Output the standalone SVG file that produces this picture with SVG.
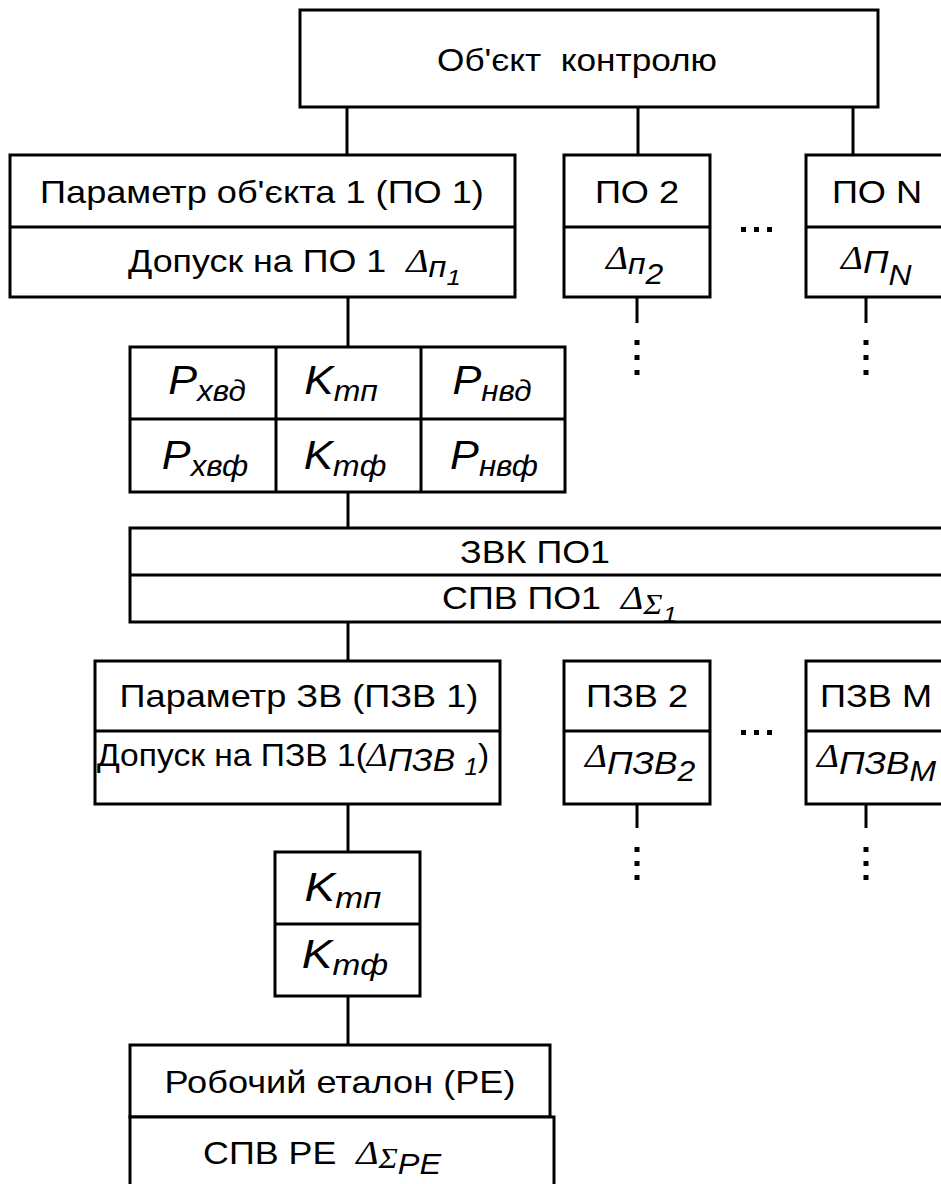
<svg xmlns="http://www.w3.org/2000/svg" width="941" height="1184" viewBox="0 0 941 1184">
<style>
.b{fill:#fff;stroke:#000;stroke-width:3}
.d{stroke:#000;stroke-width:3;fill:none}
.c line{stroke:#000;stroke-width:3}
.t{font-family:"Liberation Sans",Arial,sans-serif;font-size:32px;fill:#000;white-space:pre}
.m{text-anchor:middle}
.i{font-style:italic}
.g{font-family:"Liberation Serif","Times New Roman",serif;font-style:italic;font-size:34px}
.big{font-size:40px}
.s{font-size:29px}
.ss{font-size:23px}
.dot{fill:#000}
</style>
<g class="c" id="connectors">
<line x1="347" y1="107" x2="347" y2="155"/>
<line x1="638" y1="107" x2="638" y2="155"/>
<line x1="853" y1="107" x2="853" y2="155"/>
<line x1="348" y1="297" x2="348" y2="347"/>
<line x1="637" y1="297" x2="637" y2="323"/>
<line x1="866" y1="297" x2="866" y2="323"/>
<line x1="348" y1="492" x2="348" y2="528"/>
<line x1="348" y1="622" x2="348" y2="661"/>
<line x1="637" y1="804" x2="637" y2="828"/>
<line x1="866" y1="804" x2="866" y2="828"/>
<line x1="348" y1="804" x2="348" y2="852"/>
<line x1="348" y1="996" x2="348" y2="1045"/>
</g>
<g id="dots">
<rect class="dot" x="634.5" y="340" width="5" height="5"/><rect class="dot" x="634.5" y="355" width="5" height="5"/><rect class="dot" x="634.5" y="370" width="5" height="5"/>
<rect class="dot" x="863.5" y="340" width="5" height="5"/><rect class="dot" x="863.5" y="355" width="5" height="5"/><rect class="dot" x="863.5" y="370" width="5" height="5"/>
<rect class="dot" x="634.5" y="847" width="5" height="5"/><rect class="dot" x="634.5" y="861" width="5" height="5"/><rect class="dot" x="634.5" y="875" width="5" height="5"/>
<rect class="dot" x="863.5" y="847" width="5" height="5"/><rect class="dot" x="863.5" y="861" width="5" height="5"/><rect class="dot" x="863.5" y="875" width="5" height="5"/>
<rect class="dot" x="741" y="227" width="5" height="5"/><rect class="dot" x="754" y="227" width="5" height="5"/><rect class="dot" x="767" y="227" width="5" height="5"/>
<rect class="dot" x="741" y="730" width="5" height="5"/><rect class="dot" x="754" y="730" width="5" height="5"/><rect class="dot" x="767" y="730" width="5" height="5"/>
</g>
<g id="object">
<rect class="b" x="300" y="10" width="578" height="97"/>
<text class="t m" transform="translate(577,71) scale(1.1,1)">Об'єкт  контролю</text>
</g>
<g id="po1">
<rect class="b" x="10" y="155" width="505" height="142"/>
<line class="d" x1="10" y1="227" x2="515" y2="227"/>
<text class="t m" transform="translate(262,203) scale(1.13,1)">Параметр об'єкта 1 (ПО 1)</text>
<text class="t" transform="translate(128,272) scale(1.12,1)">Допуск на ПО 1  <tspan class="g">Δ</tspan><tspan class="i s" dy="5">п</tspan><tspan class="i ss" dy="8">1</tspan></text>
</g>
<g id="po2">
<rect class="b" x="564" y="155" width="146" height="142"/>
<line class="d" x1="564" y1="227" x2="710" y2="227"/>
<text class="t m" transform="translate(637,203) scale(1.13,1)">ПО 2</text>
<text class="t" transform="translate(606,269) scale(1.1,1)"><tspan class="g">Δ</tspan><tspan class="i s" dy="5">п</tspan><tspan class="i s" dy="10">2</tspan></text>
</g>
<g id="poN">
<rect class="b" x="806" y="155" width="150" height="142"/>
<line class="d" x1="806" y1="227" x2="941" y2="227"/>
<text class="t m" transform="translate(877,203) scale(1.13,1)">ПО N</text>
<text class="t" transform="translate(841,269) scale(1.1,1)"><tspan class="g">Δ</tspan><tspan class="i" dy="4">П</tspan><tspan class="i s" dy="12">N</tspan></text>
</g>
<g id="table1">
<rect class="b" x="130" y="347" width="435" height="145"/>
<line class="d" x1="130" y1="419" x2="565" y2="419"/>
<line class="d" x1="276" y1="347" x2="276" y2="492"/>
<line class="d" x1="421" y1="347" x2="421" y2="492"/>
<text class="t i big m" transform="translate(207,394) scale(1.08,1)">P<tspan class="s" dy="7">хвд</tspan></text>
<text class="t i big m" transform="translate(341,394) scale(1.1,1)">K<tspan class="s" dy="7">тп</tspan></text>
<text class="t i big m" transform="translate(492,394) scale(1.08,1)">P<tspan class="s" dy="7">нвд</tspan></text>
<text class="t i big m" transform="translate(205,469) scale(1.08,1)">P<tspan class="s" dy="7">хвф</tspan></text>
<text class="t i big m" transform="translate(345,469) scale(1.1,1)">K<tspan class="s" dy="7">тф</tspan></text>
<text class="t i big m" transform="translate(494,469) scale(1.08,1)">P<tspan class="s" dy="7">нвф</tspan></text>
</g>
<g id="zvk">
<rect class="b" x="130" y="528" width="830" height="94"/>
<line class="d" x1="130" y1="575" x2="941" y2="575"/>
<text class="t m" transform="translate(535,563) scale(1.12,1)">ЗВК ПО1</text>
<text class="t" transform="translate(442,609) scale(1.12,1)">СПВ ПО1  <tspan class="g">Δ</tspan><tspan class="g s" dy="5">Σ</tspan><tspan class="i ss" dy="8">1</tspan></text>
</g>
<g id="pzv1">
<rect class="b" x="95" y="661" width="405" height="143"/>
<line class="d" x1="95" y1="731" x2="500" y2="731"/>
<text class="t m" transform="translate(299,707) scale(1.13,1)">Параметр ЗВ (ПЗВ 1)</text>
<text class="t" transform="translate(97,766) scale(1.05,1)">Допуск на ПЗВ 1(<tspan class="g">Δ</tspan><tspan class="i" dy="5">ПЗВ </tspan><tspan class="i ss" dy="4">1</tspan><tspan dy="-9">)</tspan></text>
</g>
<g id="pzv2">
<rect class="b" x="564" y="661" width="146" height="143"/>
<line class="d" x1="564" y1="731" x2="710" y2="731"/>
<text class="t m" transform="translate(637,707) scale(1.13,1)">ПЗВ 2</text>
<text class="t" transform="translate(585,767) scale(1.1,1)"><tspan class="g" font-size="27">Δ</tspan><tspan class="i" dy="7">ПЗВ</tspan><tspan class="i s" dy="7">2</tspan></text>
</g>
<g id="pzvM">
<rect class="b" x="806" y="661" width="150" height="143"/>
<line class="d" x1="806" y1="731" x2="941" y2="731"/>
<text class="t" transform="translate(820,707) scale(1.13,1)">ПЗВ М</text>
<text class="t" transform="translate(817,767) scale(1.1,1)"><tspan class="g" font-size="27">Δ</tspan><tspan class="i" dy="7">ПЗВ</tspan><tspan class="i s" dy="7">M</tspan></text>
</g>
<g id="ktm">
<rect class="b" x="275" y="852" width="145" height="144"/>
<line class="d" x1="275" y1="924" x2="420" y2="924"/>
<text class="t i big m" transform="translate(343,901) scale(1.15,1)">K<tspan class="s" dy="7">тп</tspan></text>
<text class="t i big m" transform="translate(345,968) scale(1.15,1)">K<tspan class="s" dy="7">тф</tspan></text>
</g>
<g id="re">
<rect class="b" x="130" y="1045" width="420" height="72"/>
<rect class="b" x="130" y="1117" width="424" height="90"/>
<text class="t m" transform="translate(340,1093) scale(1.13,1)">Робочий еталон (РЕ)</text>
<text class="t" transform="translate(203,1164) scale(1.12,1)">СПВ РЕ  <tspan class="g">Δ</tspan><tspan class="g s" dy="4">Σ</tspan><tspan class="i s" dy="6">PE</tspan></text>
</g>
</svg>
